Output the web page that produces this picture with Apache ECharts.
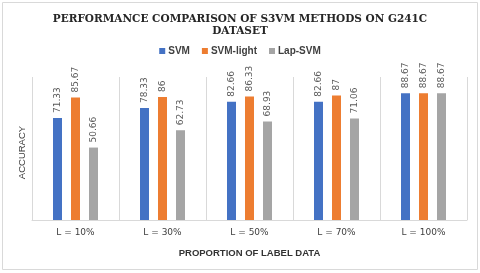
<!DOCTYPE html>
<html><head><meta charset="utf-8">
<script src="https://cdn.jsdelivr.net/npm/echarts@6/dist/echarts.min.js"></script>
<style>html,body{margin:0;padding:0;background:#fff}#c{width:480px;height:273px}</style>
</head><body><div id="c"></div>
<script>
const categories = ['L = 10%', 'L = 30%', 'L = 50%', 'L = 70%', 'L = 100%'];
const seriesNames = ['SVM', 'SVM-light', 'Lap-SVM'];
const svm = [71.33, 78.33, 82.66, 82.66, 88.67];
const svmLight = [85.67, 86, 86.33, 87, 88.67];
const lapSvm = [50.66, 62.73, 68.93, 71.06, 88.67];
const colors = ['#4472C4', '#ED7D31', '#A5A5A5'];

const chart = echarts.init(document.getElementById('c'));
const mk = (name, data, color) => ({
  name, type: 'bar', data, barWidth: 9, barGap: '100%',
  itemStyle: { color },
  label: { show: true, position: 'top', rotate: 90, align: 'left', verticalAlign: 'middle',
    distance: 5, color: '#595959', fontSize: 9, fontFamily: 'DejaVu Sans',
    formatter: p => String(p.value) }
});
chart.setOption({
  animation: false,
  title: {
    text: 'PERFORMANCE COMPARISON OF S3VM METHODS ON G241C\nDATASET',
    left: 'center', top: 8,
    textStyle: { fontFamily: 'DejaVu Serif', fontWeight: 'bold', fontSize: 10.5, color: '#262626', lineHeight: 12 }
  },
  legend: {
    top: 41, left: 'center', itemWidth: 6, itemHeight: 6, itemGap: 12,
    icon: 'rect',
    textStyle: { fontFamily: 'Liberation Sans', fontWeight: 'bold', fontSize: 10, color: '#404040', padding: [0,0,0,-2] },
    data: seriesNames
  },
  grid: { left: 32, right: 13, top: 77, bottom: 53 },
  xAxis: {
    type: 'category', data: categories,
    axisLine: { lineStyle: { color: '#d9d9d9' } },
    axisTick: { show: false },
    splitLine: { show: true, lineStyle: { color: '#d9d9d9' } },
    axisLabel: { color: '#404040', fontSize: 9, fontFamily: 'DejaVu Sans', margin: 8 },
    name: 'PROPORTION OF LABEL DATA', nameLocation: 'middle', nameGap: 28,
    nameTextStyle: { fontFamily: 'Liberation Sans', fontWeight: 'bold', fontSize: 9.5, color: '#333333' }
  },
  yAxis: {
    type: 'value', min: 0, max: 100,
    axisLine: { show: false }, axisTick: { show: false }, axisLabel: { show: false },
    splitLine: { show: false },
    name: 'ACCURACY', nameLocation: 'middle', nameGap: 5, nameRotate: 90,
    nameTextStyle: { fontFamily: 'Liberation Sans', fontSize: 9.5, color: '#404040', padding: [0,0,0,-8] }
  },
  series: [mk(seriesNames[0], svm, colors[0]), mk(seriesNames[1], svmLight, colors[1]), mk(seriesNames[2], lapSvm, colors[2])],
  graphic: [{ type: 'rect', shape: { x: 2.5, y: 2.5, width: 475, height: 267 }, style: { fill: 'none', stroke: '#d9d9d9', lineWidth: 1 } }]
});
</script></body></html>
